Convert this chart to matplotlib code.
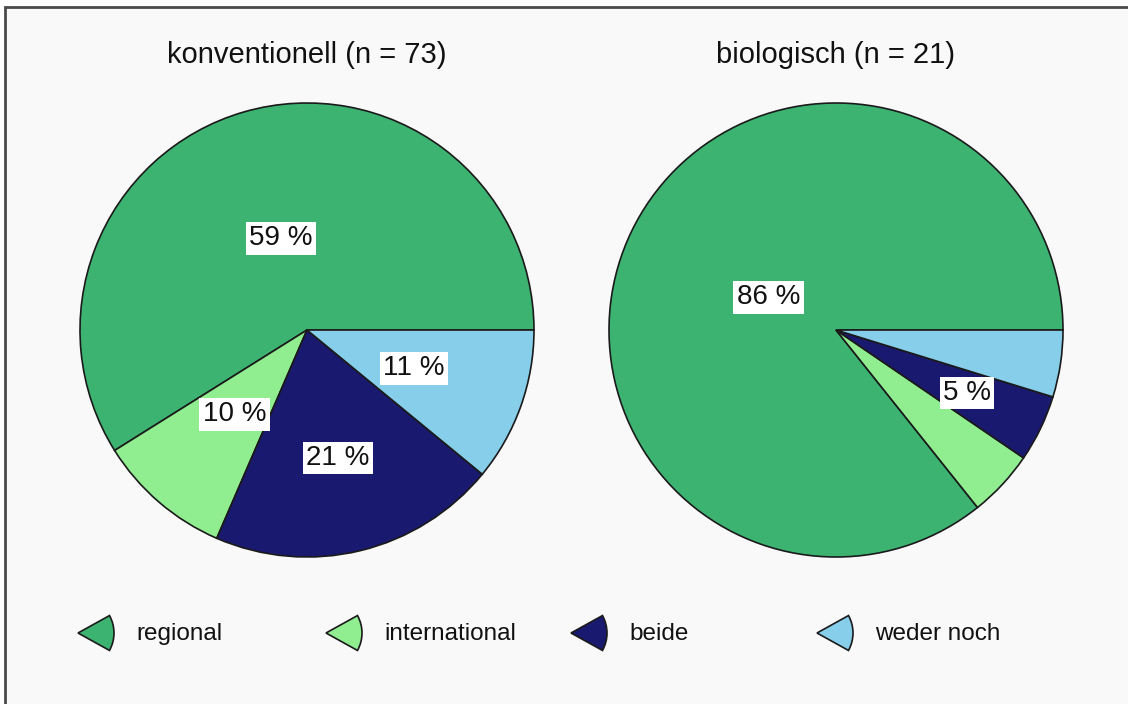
import numpy as np
import matplotlib.pyplot as plt
from matplotlib.patches import Wedge, Rectangle
from matplotlib import font_manager

# data
categories = ["regional", "international", "beide", "weder noch"]
colors = ["#3cb371", "#90ee90", "#191970", "#87ceeb"]
titles = ["konventionell (n = 73)", "biologisch (n = 21)"]
konv_counts = [43, 7, 15, 8]
bio_counts = [18, 1, 1, 1]
konv_labels = ["59 %", "10 %", "21 %", "11 %"]
bio_labels = ["86 %", "", "5 %", ""]
# how far out (fraction of radius) each label sits
konv_label_r = [0.42, 0.49, 0.58, 0.50]
bio_label_r = [0.33, 0.50, 0.64, 0.50]

names = {f.name for f in font_manager.fontManager.ttflist}
title_font = "Liberation Sans Narrow" if "Liberation Sans Narrow" in names else "Liberation Sans"
title_size = 25 if title_font == "Liberation Sans Narrow" else 21
plt.rcParams['font.family'] = ['Liberation Sans', 'DejaVu Sans']

W, H = 1128, 704
fig = plt.figure(figsize=(W / 100, H / 100), dpi=100, facecolor="white")

# background panel in pixel coords
bg = fig.add_axes([0, 0, 1, 1], zorder=0)
bg.set_xlim(0, W)
bg.set_ylim(H, 0)
bg.axis("off")
bg.add_patch(Rectangle((5, 7), W + 20, H + 20, facecolor="#f9f9f9",
                       edgecolor="#4a4a4a", linewidth=2))

def draw_pie(cx, counts, labels, label_r, title):
    r = 227
    ax = fig.add_axes([(cx - r) / W, (H - 330 - r) / H, 2 * r / W, 2 * r / H], zorder=1)
    ax.pie(counts, colors=colors, startangle=0, counterclock=True,
           wedgeprops=dict(edgecolor="#1a1a1a", linewidth=1.2))
    ax.set_xlim(-1, 1)
    ax.set_ylim(-1, 1)
    ax.set_aspect("equal")
    ax.patch.set_alpha(0)
    fr = np.array(counts) / np.sum(counts)
    ends = np.cumsum(fr) * 360
    starts = ends - fr * 360
    for lab, a0, a1, rr in zip(labels, starts, ends, label_r):
        if not lab:
            continue
        mid = np.deg2rad((a0 + a1) / 2)
        ax.text(rr * np.cos(mid), rr * np.sin(mid), lab, ha="center", va="center",
                fontsize=20, color="#111111",
                bbox=dict(boxstyle="square,pad=0.12", facecolor="white", edgecolor="none"))
    fig.text(cx / W, 1 - 55 / H, title, ha="center", va="center",
             fontsize=title_size, family=[title_font, "DejaVu Sans"], color="#111111")

draw_pie(307, konv_counts, konv_labels, konv_label_r, titles[0])
draw_pie(836, bio_counts, bio_labels, bio_label_r, titles[1])

# legend with wedge-shaped keys
leg_x = [78, 326, 571, 817]
for x, c, name in zip(leg_x, colors, categories):
    bg.add_patch(Wedge((x, 633), 36, -29, 29, facecolor=c, edgecolor="#1a1a1a", linewidth=1.2))
    bg.text(x + 58, 634, name, ha="left", va="center", fontsize=17.5, color="#111111")

fig.savefig("out.png", dpi=100, facecolor=fig.get_facecolor())
